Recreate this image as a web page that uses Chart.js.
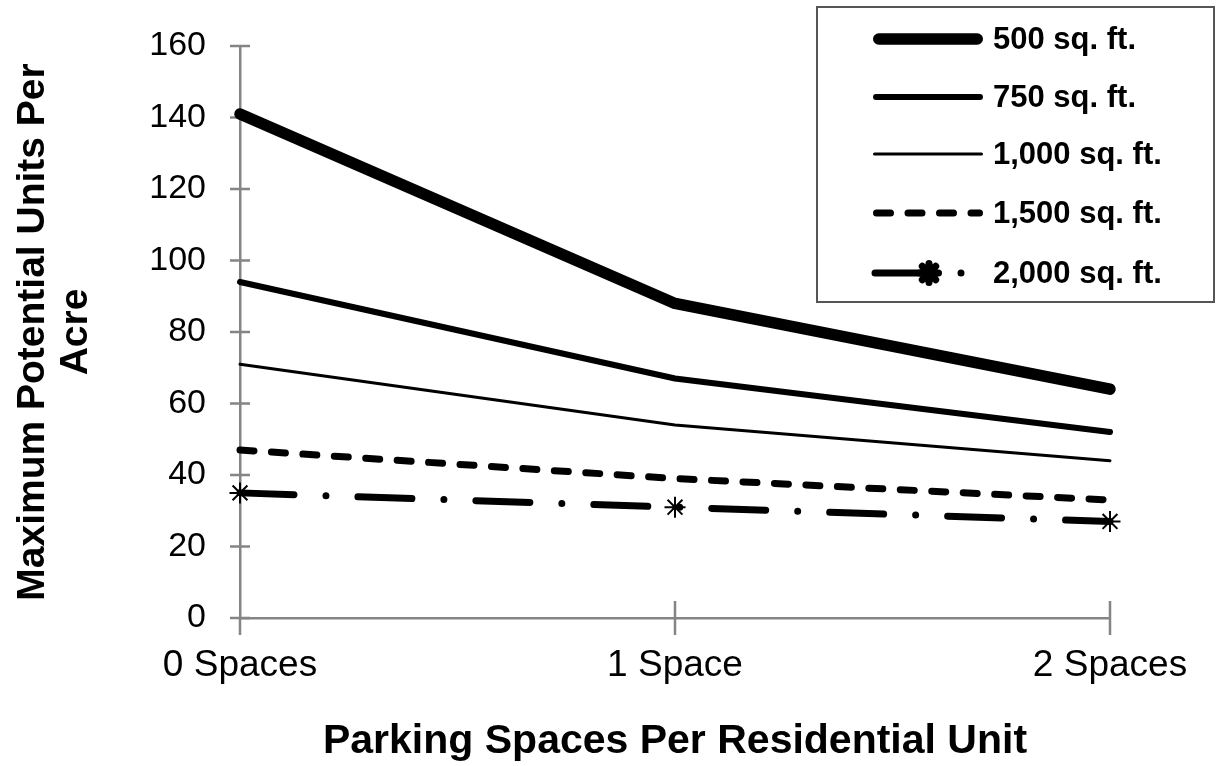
<!DOCTYPE html>
<html>
<head>
<meta charset="utf-8">
<script src="https://cdn.jsdelivr.net/npm/chart.js@4.4.1/dist/chart.umd.min.js"></script>
<style>
  html, body { margin: 0; padding: 0; background: #fff; }
  #wrap { width: 1217px; height: 766px; }
</style>
</head>
<body>
<div id="wrap"><canvas id="unitsChart" width="1217" height="766"></canvas></div>
<script>
// parking spaces per unit (x categories)
const categories = ["0 Spaces", "1 Space", "2 Spaces"];

// units per acre for each unit size
const sqft500 = [141, 88, 64];
const sqft750 = [94, 67, 52];
const sqft1000 = [71, 54, 44];
const sqft1500 = [47, 39, 33];
const sqft2000 = [35, 31, 27];

const seriesLabels = ["500 sq. ft.", "750 sq. ft.", "1,000 sq. ft.", "1,500 sq. ft.", "2,000 sq. ft."];

// y axis range / step
const yMin = 0;
const yMax = 160;
const yStep = 20;

const FONT = "'Liberation Sans', Arial, sans-serif";
const AXIS_GRAY = "#858585";

Chart.defaults.font.family = FONT;
Chart.defaults.color = "#000";

function lineSet(label, data, width, dash) {
  return {
    label: label,
    data: data,
    borderColor: "#000",
    backgroundColor: "#000",
    borderWidth: width,
    borderDash: dash || [],
    borderCapStyle: "round",
    borderJoinStyle: "round",
    pointRadius: 0,
    pointHoverRadius: 0,
    tension: 0,
    fill: false,
    clip: false
  };
}

const datasets = [
  lineSet(seriesLabels[0], sqft500, 11.5),
  lineSet(seriesLabels[1], sqft750, 6),
  lineSet(seriesLabels[2], sqft1000, 3),
  lineSet(seriesLabels[3], sqft1500, 7, [14, 17.5]),
  Object.assign(lineSet(seriesLabels[4], sqft2000, 7, [54, 32, 0, 32]), {
    pointRadius: 10.5,
    pointStyle: "star",
    pointBorderColor: "#000",
    pointBorderWidth: 2
  })
];

// tick marks that cross the axis lines
const crossTicks = {
  id: "crossTicks",
  beforeDatasetsDraw(chart) {
    const ctx = chart.ctx;
    const x = chart.scales.x, y = chart.scales.y;
    const area = chart.chartArea;
    ctx.save();
    ctx.strokeStyle = AXIS_GRAY;
    ctx.lineWidth = 2.5;
    ctx.beginPath();
    y.ticks.forEach(t => {
      const py = y.getPixelForValue(t.value);
      ctx.moveTo(area.left - 10, py);
      ctx.lineTo(area.left + 10, py);
    });
    x.ticks.forEach((t, i) => {
      const px = x.getPixelForTick(i);
      ctx.moveTo(px, area.bottom - (i === 0 ? 0 : 17));
      ctx.lineTo(px, area.bottom + 17);
    });
    ctx.stroke();
    ctx.restore();
  }
};

// boxed legend with line samples in the top right corner
const boxLegend = {
  id: "boxLegend",
  afterDraw(chart) {
    const ctx = chart.ctx;
    const box = { x: 817, y: 7, w: 397, h: 295 };
    ctx.save();
    ctx.fillStyle = "#fff";
    ctx.fillRect(box.x, box.y, box.w, box.h);
    ctx.strokeStyle = "#555";
    ctx.lineWidth = 2;
    ctx.strokeRect(box.x, box.y, box.w, box.h);

    const rowY = [39, 97, 154, 213, 273];
    chart.data.datasets.forEach((ds, i) => {
      const yy = rowY[i];
      ctx.strokeStyle = ds.borderColor;
      ctx.lineWidth = ds.borderWidth;
      ctx.lineCap = "round";
      ctx.setLineDash(ds.borderDash);
      ctx.beginPath();
      if (ds.pointStyle) {
        ctx.moveTo(875, yy);
        ctx.lineTo(984, yy);
      } else {
        ctx.moveTo(876 + ds.borderWidth / 2 - 3, yy);
        ctx.lineTo(980 - ds.borderWidth / 2 + 3, yy);
      }
      ctx.stroke();
      ctx.setLineDash([]);
      if (ds.pointStyle) {
        ctx.fillStyle = "#000";
        ctx.strokeStyle = "#000";
        Chart.helpers.drawPoint(ctx, {
          pointStyle: ds.pointStyle,
          radius: ds.pointRadius - 1,
          rotation: 0,
          borderWidth: ds.pointBorderWidth
        }, 929, yy);
      }
      ctx.fillStyle = "#000";
      ctx.font = "bold 31px " + FONT;
      ctx.textAlign = "left";
      ctx.textBaseline = "middle";
      ctx.fillText(ds.label, 993, yy + 1);
    });
    ctx.restore();
  }
};

new Chart(document.getElementById("unitsChart"), {
  type: "line",
  data: { labels: categories, datasets: datasets },
  options: {
    responsive: false,
    animation: false,
    devicePixelRatio: 1,
    layout: { padding: { top: 46, right: 107, bottom: 0, left: 0 } },
    plugins: {
      legend: { display: false },
      tooltip: { enabled: false },
      title: { display: false }
    },
    scales: {
      x: {
        type: "category",
        offset: false,
        grid: { display: false, drawTicks: false },
        border: { display: true, color: AXIS_GRAY, width: 2.5 },
        ticks: {
          font: { size: 37 },
          color: "#000",
          padding: 26,
          maxRotation: 0,
          autoSkip: false
        },
        title: {
          display: true,
          text: "Parking Spaces Per Residential Unit",
          font: { size: 41, weight: "bold" },
          color: "#000",
          padding: { top: 0, bottom: 0 }
        },
        afterFit(scale) {
          scale.height = 148;
          scale.paddingLeft = 0;
          scale.paddingRight = 0;
        }
      },
      y: {
        min: yMin,
        max: yMax,
        grid: { display: false, drawTicks: false },
        border: { display: true, color: AXIS_GRAY, width: 2.5 },
        ticks: {
          stepSize: yStep,
          font: { size: 34 },
          color: "#000",
          padding: 34
        },
        title: {
          display: true,
          text: ["Maximum Potential Units Per", "Acre"],
          font: { size: 39, weight: "bold", lineHeight: 1.1 },
          color: "#000",
          padding: { top: 12, bottom: 0 }
        },
        afterFit(scale) {
          scale.width = 240;
          scale.paddingTop = 0;
          scale.paddingBottom = 0;
        }
      }
    }
  },
  plugins: [crossTicks, boxLegend]
});
</script>
</body>
</html>
